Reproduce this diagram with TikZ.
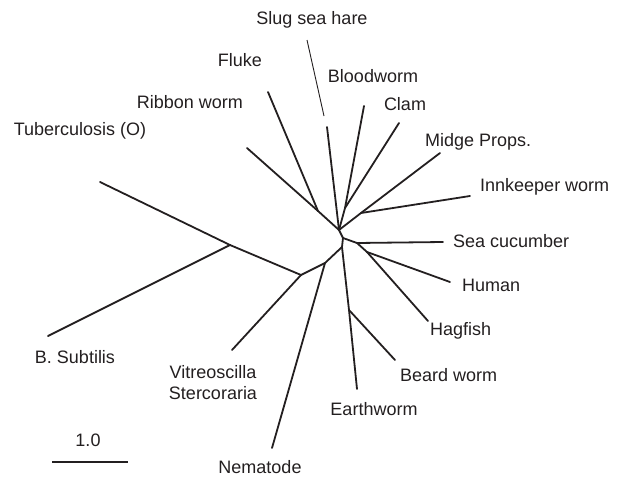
\documentclass[tikz,border=0pt]{standalone}
\usepackage{fontspec}
\setmainfont{Liberation Sans}
\usepackage{xcolor}
\definecolor{TreeInk}{HTML}{231F20}

\tikzset{
  branch/.style={TreeInk,line width=1.8pt,line cap=round},
  leader/.style={TreeInk,line width=0.9pt},
  taxon/.style={TreeInk,inner sep=0pt,font=\fontsize{18}{21}\selectfont}
}

\begin{document}
\begin{tikzpicture}[x=1pt,y=-1pt]
\path[use as bounding box] (0,0) rectangle (624,479);
% inner junctions
\coordinate (hubA) at (339,230);
\coordinate (hubB) at (343,238);
\coordinate (hubC) at (342,247);
\coordinate (jFR) at (318,211);
\coordinate (jBC) at (345,208);
\coordinate (jMI) at (361,213);
\coordinate (jSC) at (357,243);
\coordinate (jHH) at (367,252);
\coordinate (jBW) at (349,310);
\coordinate (jNM) at (325,263);
\coordinate (jVS) at (301,275);
\coordinate (jRT) at (230,245);
% tips
\coordinate (tuber) at (100,182);
\coordinate (subtil) at (48,336);
\coordinate (vitreo) at (232,350);
\coordinate (nemat) at (272,448);
\coordinate (earth) at (357,389);
\coordinate (beard) at (395,360);
\coordinate (hagf) at (428,321);
\coordinate (human) at (450,282);
\coordinate (seacu) at (443,242);
\coordinate (innk) at (470,196);
\coordinate (midge) at (440,153);
\coordinate (clam) at (399,123);
\coordinate (blood) at (364,106);
\coordinate (slug) at (327,127);
\coordinate (fluke) at (268,92);
\coordinate (ribbon) at (247,148);
% backbone
\draw[branch] (jRT) -- (jVS) -- (jNM) -- (hubC) -- (hubB) -- (hubA);
\draw[branch] (jRT) -- (tuber);
\draw[branch] (jRT) -- (subtil);
\draw[branch] (jVS) -- (vitreo);
\draw[branch] (jNM) -- (nemat);
\draw[branch] (hubC) -- (jBW) -- (earth);
\draw[branch] (jBW) -- (beard);
\draw[branch] (hubB) -- (jSC) -- (seacu);
\draw[branch] (jSC) -- (jHH) -- (human);
\draw[branch] (jHH) -- (hagf);
\draw[branch] (hubA) -- (jMI) -- (innk);
\draw[branch] (jMI) -- (midge);
\draw[branch] (hubA) -- (jBC) -- (clam);
\draw[branch] (jBC) -- (blood);
\draw[branch] (hubA) -- (slug);
\draw[branch] (hubA) -- (jFR) -- (fluke);
\draw[branch] (jFR) -- (ribbon);
% labels
\node[taxon] (tSlug) at (312,20) {Slug sea hare};
\coordinate (slugTop) at (307,40);
\coordinate (slugBot) at (324,116);
\draw[leader] (slugTop) -- (slugBot);
\node[taxon] (tFluke) at (240,60) {Fluke};
\node[taxon] (tBlood) at (373,76) {Bloodworm};
\node[taxon] (tRibbon) at (190,102) {Ribbon worm};
\node[taxon] (tClam) at (405,104) {Clam};
\node[taxon] (tTuber) at (80,131) {Tuberculosis (O)};
\node[taxon,anchor=west] (tMidge) at (425,142) {Midge Props.};
\node[taxon,anchor=west] (tInnk) at (480,187) {Innkeeper worm};
\node[taxon,anchor=west] (tSeacu) at (453,241) {Sea cucumber};
\node[taxon,anchor=west] (tHuman) at (462,285) {Human};
\node[taxon,anchor=west] (tHagf) at (430,331) {Hagfish};
\node[taxon] (tSubtil) at (75,357) {B. Subtilis};
\node[taxon,align=center] (tVitreo) at (213,383) {Vitreoscilla\\Stercoraria};
\node[taxon,anchor=west] (tBeard) at (400,375) {Beard worm};
\node[taxon] (tEarth) at (374,409) {Earthworm};
\node[taxon] (tNemat) at (260,467) {Nematode};
% scale bar
\coordinate (barL) at (52,462);
\coordinate (barR) at (128,462);
\draw[branch,line cap=butt] (barL) -- (barR);
\node[taxon] (tBar) at (88,440) {1.0};
\end{tikzpicture}
\end{document}
